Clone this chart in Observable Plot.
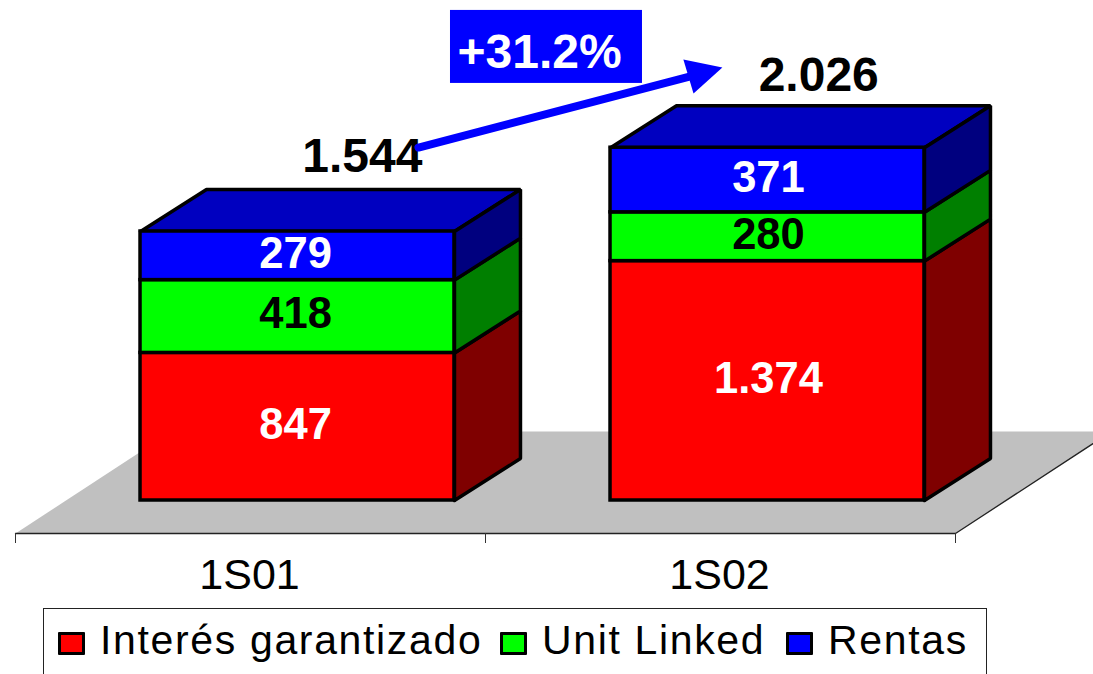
<!DOCTYPE html>
<html>
<head>
<meta charset="utf-8">
<script src="https://cdn.jsdelivr.net/npm/d3@7"></script>
<script src="https://cdn.jsdelivr.net/npm/@observablehq/plot@0.6"></script>
<style>
  html, body { margin: 0; padding: 0; background: #fff; overflow: hidden; }
  #chart svg { display: block; }
  #legend { position: absolute; left: 43px; top: 608px; width: 944px; height: 66px; box-sizing: border-box;
    border: 1px solid #222; border-bottom: none; font: 41px "Liberation Sans", Arial, sans-serif; color: #000; }
  #legend span { position: absolute; white-space: nowrap; letter-spacing: 1.65px; top: 8px; line-height: 46px; }
  #legend i { position: absolute; top: 23px; width: 21px; height: 17px; border: 3px solid #000; border-radius: 1px; }
</style>
</head>
<body>
<div id="chart"></div>
<div id="legend"></div>
<script>
const categories = ["1S01", "1S02"];
const seriesNames = ["Interés garantizado", "Unit Linked", "Rentas"];
const interes = [847, 1374];
const unitLinked = [418, 280];
const rentas = [279, 371];
const totalLabels = ["1.544", "2.026"];
const segmentLabels = [["847", "418", "279"], ["1.374", "280", "371"]];
const seriesColors = ["#ff0000", "#00ff00", "#0000ff"];
const sideColors = ["#7f0000", "#007f00", "#00007f"];
const topColor = "#0000c0";
const labelColors = ["#ffffff", "#000000", "#ffffff"];
const growthLabel = "+31.2%";

const font = '"Liberation Sans", Arial, sans-serif';
const barCenterOffset = 0.6, barHalf = 0.334;
const labelCenterOffset = [0.596, 0.602];
const depthX = 0.1404, depthY = 241;
const floorFront = -189.4, floorBack = 396, floorDepthX = 0.332;

const values = [interes, unitLinked, rentas];
const fronts = [], sides = [], tops = [], labels = [];
categories.forEach((c, i) => {
  const x1 = i + barCenterOffset - barHalf, x2 = i + barCenterOffset + barHalf;
  let base = 0;
  values.forEach((v, s) => {
    const y1 = base, y2 = base + v[i];
    fronts.push({x1, x2, y1, y2, fill: seriesColors[s]});
    labels.push({x: i + labelCenterOffset[i], y: (y1 + y2) / 2, text: segmentLabels[i][s], fill: labelColors[s]});
    const id = `${c}-${s}`;
    [[x2, y1], [x2 + depthX, y1 + depthY], [x2 + depthX, y2 + depthY], [x2, y2], [x2, y1]]
      .forEach(([x, y]) => sides.push({id, x, y, fill: sideColors[s]}));
    base = y2;
  });
  [[x1, base], [x1 + depthX, base + depthY], [x2 + depthX, base + depthY], [x2, base], [x1, base]]
    .forEach(([x, y]) => tops.push({id: c, x, y, fill: topColor}));
});

const floor = [[0, floorFront], [2, floorFront], [2 + floorDepthX, floorBack], [floorDepthX, floorBack], [0, floorFront]]
  .map(([x, y]) => ({x, y}));
const floorEdge = [{x: 0, y: floorFront}, {x: 2, y: floorFront}, {x: 2 + floorDepthX, y: floorBack}];

const totals = [{x: 0.738, y: 1972, text: totalLabels[0]}, {x: 1.709, y: 2437, text: totalLabels[1]}];
const arrowShaft = [{x: 0.8574, y: 2026}, {x: 1.436, y: 2434}];
const arrowHead = [{x: 1.504, y: 2486}, {x: 1.421, y: 2532}, {x: 1.4426, y: 2336}, {x: 1.504, y: 2486}];
const badge = [{x1: 0.9255, x2: 1.334, y1: 2394, y2: 2813}];

const plot = Plot.plot({
  width: 1093, height: 608,
  marginTop: 0, marginRight: 0, marginLeft: 0, marginBottom: 75,
  style: {background: "#fff", fontFamily: font},
  x: {domain: [-15 / 470, 1078 / 470], range: [0, 1093], label: null},
  y: {domain: [floorFront, 2870], range: [533, 0], label: null, axis: null},
  color: {type: "identity"},
  marks: [
    Plot.line(floor, {x: "x", y: "y", fill: "#c0c0c0", stroke: "none"}),
    Plot.line(floorEdge, {x: "x", y: "y", stroke: "#222", strokeWidth: 1.3}),
    Plot.axisX({ticks: [0, 1, 2], tickFormat: () => "", tickSize: 10, stroke: "#333", label: null}),
    Plot.axisX({ticks: [0.5, 1.5], tickSize: 0, tickPadding: 25, label: null, dx: -1,
      tickFormat: d => categories[Math.floor(d)], fontSize: 43, fill: "#000"}),
    Plot.line(tops, {x: "x", y: "y", z: "id", fill: "fill", stroke: "#000", strokeWidth: 3.5, strokeLinejoin: "miter"}),
    Plot.line(sides, {x: "x", y: "y", z: "id", fill: "fill", stroke: "#000", strokeWidth: 3.5, strokeLinejoin: "miter"}),
    Plot.rect(fronts, {x1: "x1", x2: "x2", y1: "y1", y2: "y2", fill: "fill", stroke: "#000", strokeWidth: 3.5}),
    Plot.text(labels, {x: "x", y: "y", text: "text", fill: "fill", dy: -2, fontSize: 43.5, fontWeight: "bold"}),
    Plot.text(totals, {x: "x", y: "y", text: "text", fill: "#000", fontSize: 48, fontWeight: "bold"}),
    Plot.rect(badge, {x1: "x1", x2: "x2", y1: "y1", y2: "y2", fill: "#0000ff"}),
    Plot.text([growthLabel], {x: [1.115], y: [2572], text: d => d, fill: "#fff", fontSize: 48, fontWeight: "bold"}),
    Plot.line(arrowShaft, {x: "x", y: "y", stroke: "#0000ff", strokeWidth: 8}),
    Plot.line(arrowHead, {x: "x", y: "y", fill: "#0000ff", stroke: "none"})
  ]
});
document.getElementById("chart").append(plot);

const legendEl = document.getElementById("legend");
const swatchLeft = [14, 456, 742], textLeft = [56, 498, 784];
seriesNames.forEach((name, s) => {
  const sw = document.createElement("i");
  sw.style.left = swatchLeft[s] + "px";
  sw.style.background = seriesColors[s];
  legendEl.append(sw);
  const t = document.createElement("span");
  t.style.left = textLeft[s] + "px";
  t.textContent = name;
  legendEl.append(t);
});
</script>
</body>
</html>
